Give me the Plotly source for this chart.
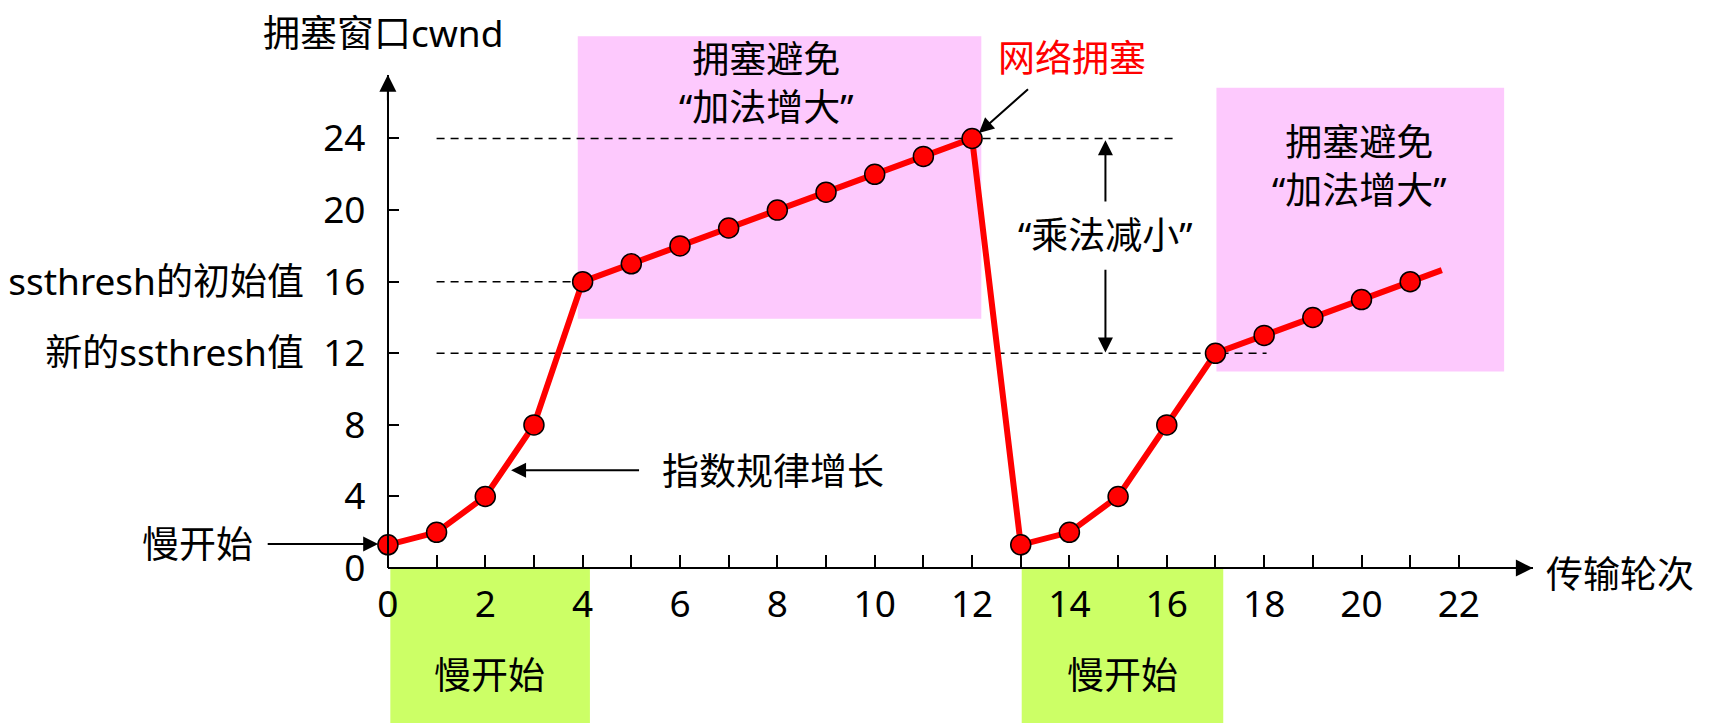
import plotly.graph_objects as go

# 数据：传输轮次与拥塞窗口
rounds = list(range(22))
cwnd = [1.3, 2, 4, 8, 16, 17, 18, 19, 20, 21, 22, 23, 24,
        1.3, 2, 4, 8, 12, 13, 14, 15, 16]
tail_x, tail_y = 21.65, 16.65      # 最后一段线延伸到这里（无标记）

x_ticks = list(range(0, 23, 2))
x_minor = list(range(1, 23, 2))
y_ticks = [0, 4, 8, 12, 16, 20, 24]
y_ticktext = ["0", "4", "8", "新的ssthresh值  12", "ssthresh的初始值  16", "20", "24"]

# 阶段区间
slow_start_x = [(0.05, 4.15), (13.02, 17.16)]
avoid_x = [(3.9, 12.19), (17.02, 22.93)]
avoid_y = [(13.93, 29.71), (10.99, 26.83)]

# 虚线：(y, x起点, x终点)
dash_lines = [(24, 1.0, 16.2), (16, 1.0, 3.93), (12, 1.0, 18.05)]

##############################################################
W, H = 1723, 723
PAGE = 8                   # 页面 body 默认边距
X0, Y0 = 387.9 - PAGE, 568.1 - PAGE   # 原点在图内的像素位置
UX, UY = 48.68, 17.90      # 每单位像素
XMAX, YMAX = 23.52, 27.56
FONT = "Noto Sans, Noto Sans CJK SC"
FS = 37
PINK = "#FDC9FD"
GREEN = "#CCFF66"

fig = go.Figure()

fig.add_trace(go.Scatter(
    x=rounds + [tail_x], y=cwnd + [tail_y], xaxis="x2", yaxis="y2",
    mode="lines", line=dict(color="red", width=6),
    showlegend=False, hoverinfo="skip", cliponaxis=False))
fig.add_trace(go.Scatter(
    x=rounds, y=cwnd, xaxis="x2", yaxis="y2", mode="markers",
    marker=dict(color="red", size=20, line=dict(color="black", width=1.5)),
    showlegend=False, cliponaxis=False))

# 背景色块
for (x0, x1), (y0, y1) in zip(avoid_x, avoid_y):
    fig.add_shape(type="rect", xref="x", yref="y", x0=x0, x1=x1, y0=y0, y1=y1,
                  fillcolor=PINK, line=dict(width=0), layer="below")
for x0, x1 in slow_start_x:
    fig.add_shape(type="rect", xref="x", yref="y", x0=x0, x1=x1, y0=-10, y1=0,
                  fillcolor=GREEN, line=dict(width=0), layer="below")
for y, x0, x1 in dash_lines:
    fig.add_shape(type="line", xref="x", yref="y", x0=x0, x1=x1, y0=y, y1=y,
                  line=dict(color="black", width=1.5, dash="8px,6px"), layer="below")


def text(x, y, s, color="black", xanchor="center"):
    fig.add_annotation(x=x, y=y, xref="x", yref="y", text=s, showarrow=False,
                       xanchor=xanchor, yanchor="middle",
                       font=dict(family=FONT, size=FS, color=color))


def arrow(x, y, ax, ay, size=1.5):
    fig.add_annotation(x=x, y=y, ax=ax, ay=ay, xref="x", yref="y", axref="x", ayref="y",
                       text="", showarrow=True, arrowhead=2, arrowsize=size,
                       arrowwidth=2, arrowcolor="black")


text(-0.1, 29.95, "拥塞窗口cwnd")
text(23.75, -0.31, "传输轮次", xanchor="left")
text(7.77, 27.13, "拥塞避免<br>“加法增大”")
text(19.95, 22.47, "拥塞避免<br>“加法增大”")
text(14.06, 28.55, "网络拥塞", color="red")
text(14.74, 18.62, "“乘法减小”")
text(5.58, 5.46, "指数规律增长", xanchor="left")
text(-2.73, 1.35, "慢开始", xanchor="right")
text(2.08, -5.95, "慢开始")
text(15.1, -5.95, "慢开始")

arrow(12.14, 24.31, 13.18, 26.83)
arrow(2.53, 5.46, 5.19, 5.46)
arrow(-0.2, 1.35, -2.5, 1.35)
arrow(14.74, 23.9, 14.74, 20.4)
arrow(14.74, 12.05, 14.74, 16.75)
# 坐标轴箭头
arrow(XMAX, 0, XMAX - 0.6, 0, size=1.7)
arrow(0, YMAX, 0, YMAX - 1.5, size=1.7)

fig.update_layout(
    width=W, height=H, margin=dict(l=0, r=0, t=0, b=0),
    plot_bgcolor="rgba(0,0,0,0)", paper_bgcolor="white", showlegend=False,
    xaxis=dict(domain=[0, 1], range=[-X0 / UX, (W - X0) / UX], visible=False,
               automargin=False),
    yaxis=dict(domain=[0, 1], range=[-(H - Y0) / UY, Y0 / UY], visible=False,
               automargin=False),
    xaxis2=dict(domain=[X0 / W, (X0 + XMAX * UX) / W], range=[0, XMAX],
                anchor="free", position=(H - Y0) / H, automargin=False,
                showline=True, linecolor="black", linewidth=2,
                ticks="inside", ticklen=12, tickwidth=1.5, tickcolor="black",
                tickmode="array", tickvals=x_ticks, ticklabelstandoff=3,
                minor=dict(tickmode="array", tickvals=x_minor, ticks="inside",
                           ticklen=12, tickwidth=1.5, tickcolor="black", showgrid=False),
                showgrid=False, zeroline=False,
                tickfont=dict(family=FONT, size=FS, color="black")),
    yaxis2=dict(domain=[(H - Y0) / H, (H - Y0 + YMAX * UY) / H], range=[0, YMAX],
                anchor="free", position=X0 / W, automargin=False,
                showline=True, linecolor="black", linewidth=2,
                ticks="inside", ticklen=10, tickwidth=1.5, tickcolor="black",
                tickmode="array", tickvals=y_ticks, ticktext=y_ticktext,
                ticklabelstandoff=14,
                showgrid=False, zeroline=False,
                tickfont=dict(family=FONT, size=FS, color="black")),
)

fig.write_html("out.html")
